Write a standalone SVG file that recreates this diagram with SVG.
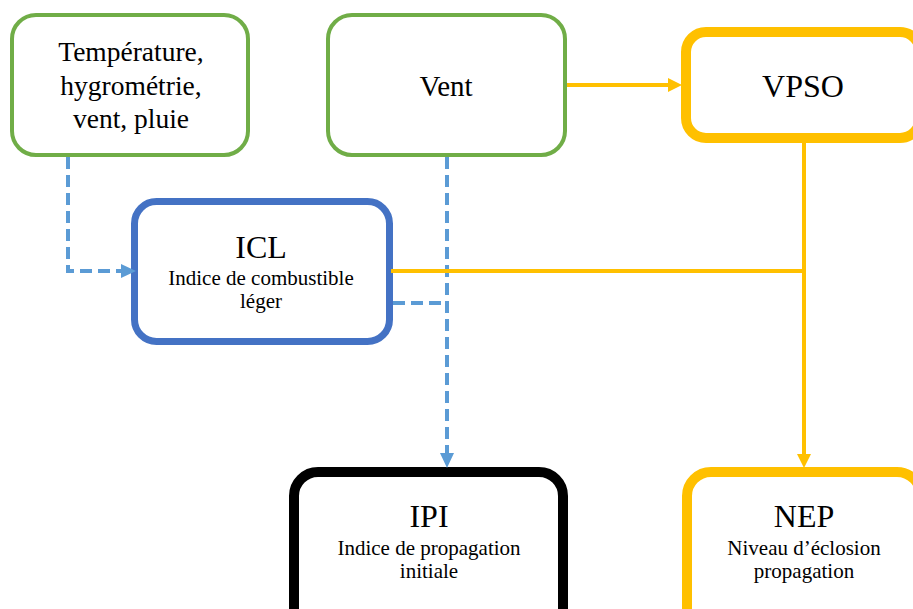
<svg xmlns="http://www.w3.org/2000/svg" width="913" height="609" viewBox="0 0 913 609">
<style>
  .box{fill:#fff}
  .green{stroke:#70AD47;stroke-width:4}
  .yellow{stroke:#FFC000;stroke-width:10}
  .blue{stroke:#4472C4;stroke-width:7}
  .black{stroke:#000;stroke-width:10}
  text{fill:#000;text-anchor:middle}
  .big{font-size:27.5px}
  .vent{font-size:29px}
  .title{font-size:32px}
  .sub{font-size:21px}
  .dash{fill:none;stroke:#5B9BD5;stroke-width:4;stroke-dasharray:12 6}
  .solid{fill:none;stroke:#FFC000;stroke-width:4}
</style>
<defs>
  <marker id="ab" markerUnits="userSpaceOnUse" markerWidth="16" markerHeight="16" refX="0" refY="7" orient="auto">
    <path d="M0,0 L15,7 L0,14 z" fill="#5B9BD5"/>
  </marker>
  <marker id="ay" markerUnits="userSpaceOnUse" markerWidth="16" markerHeight="16" refX="0" refY="7" orient="auto">
    <path d="M0,0 L14,7 L0,14 z" fill="#FFC000"/>
  </marker>
</defs>
<rect width="913" height="609" fill="#fff"/>
<g font-family="'Liberation Serif', 'DejaVu Serif', serif">
<g id="meteo">
  <rect class="box green" x="12" y="15" width="236" height="140" rx="24"/>
  <text class="big" x="131" y="61">Température,</text>
  <text class="big" x="131" y="95">hygrométrie,</text>
  <text class="big" x="131" y="128">vent, pluie</text>
</g>
<g id="vent">
  <rect class="box green" x="328" y="15" width="237" height="140" rx="24"/>
  <text class="vent" x="446" y="96">Vent</text>
</g>
<g id="vpso">
  <rect class="box yellow" x="686" y="32" width="234" height="106" rx="20"/>
  <text class="title" x="803" y="97">VPSO</text>
</g>
<g id="icl">
  <rect class="box blue" x="134.5" y="201.5" width="255" height="140" rx="22"/>
  <text class="title" x="261" y="258">ICL</text>
  <text class="sub" x="261" y="285">Indice de combustible</text>
  <text class="sub" x="261" y="308">léger</text>
</g>
<g id="ipi">
  <rect class="box black" x="294" y="472" width="269" height="160" rx="24"/>
  <text class="title" x="429" y="527">IPI</text>
  <text class="sub" x="429" y="555">Indice de propagation</text>
  <text class="sub" x="429" y="578">initiale</text>
</g>
<g id="nep">
  <rect class="box yellow" x="687" y="472" width="234" height="160" rx="24"/>
  <text class="title" x="804" y="527">NEP</text>
  <text class="sub" x="804" y="555">Niveau d’éclosion</text>
  <text class="sub" x="804" y="578">propagation</text>
</g>
</g>
<g id="connectors">
  <path class="dash" d="M68,157 V271 H121" marker-end="url(#ab)"/>
  <path class="dash" d="M447,157 V453" marker-end="url(#ab)"/>
  <path class="dash" d="M393,303 H447"/>
  <path class="solid" d="M567,85 H668" marker-end="url(#ay)"/>
  <path class="solid" d="M804,143 V454" marker-end="url(#ay)"/>
  <path class="solid" d="M391,271 H806"/>
</g>
</svg>
